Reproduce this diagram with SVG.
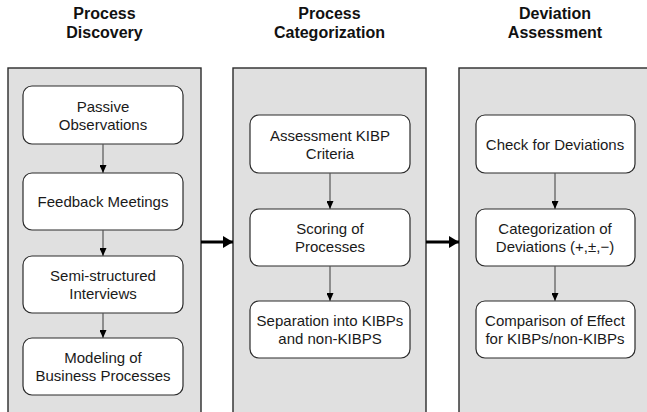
<svg xmlns="http://www.w3.org/2000/svg" width="647" height="412" viewBox="0 0 647 412">
  <defs>
    <style>
      .panel { fill: #e0e0e0; stroke: #2b2b2b; stroke-width: 1.4; }
      .node { fill: #ffffff; stroke: #2b2b2b; stroke-width: 1.2; }
      .title { font-family: "Liberation Sans", Arial, sans-serif; font-size: 16px; font-weight: bold; fill: #111; text-anchor: middle; }
      .label { font-family: "Liberation Sans", Arial, sans-serif; font-size: 15px; fill: #1a1a1a; text-anchor: middle; }
      .step { stroke: #555; stroke-width: 1.2; fill: none; marker-end: url(#small); }
      .flow { stroke: #000; stroke-width: 3; fill: none; marker-end: url(#big); }
    </style>
    <marker id="small" viewBox="0 0 8 7" refX="8" refY="3.5" markerWidth="8" markerHeight="7" markerUnits="userSpaceOnUse" orient="auto">
      <path d="M0,0 L8,3.5 L0,7 Z" fill="#000"/>
    </marker>
    <marker id="big" viewBox="0 0 10 12" refX="10" refY="6" markerWidth="10" markerHeight="12" markerUnits="userSpaceOnUse" orient="auto">
      <path d="M0,0 L10,6 L0,12 Z" fill="#000"/>
    </marker>
  </defs>

  <!-- column titles -->
  <g id="title-discovery">
    <text class="title" x="104.5" y="19">Process</text>
    <text class="title" x="104.5" y="38">Discovery</text>
  </g>
  <g id="title-categorization">
    <text class="title" x="329.5" y="19">Process</text>
    <text class="title" x="329.5" y="38">Categorization</text>
  </g>
  <g id="title-deviation">
    <text class="title" x="555" y="19">Deviation</text>
    <text class="title" x="555" y="38">Assessment</text>
  </g>

  <!-- column panels -->
  <g id="panel-discovery"><rect class="panel" x="8" y="68" width="193" height="360"/></g>
  <g id="panel-categorization"><rect class="panel" x="233" y="68" width="193" height="360"/></g>
  <g id="panel-deviation"><rect class="panel" x="459" y="68" width="193" height="360"/></g>

  <!-- process discovery steps -->
  <g id="passive-observations">
    <rect class="node" x="23" y="86" width="160" height="58" rx="9"/>
    <text class="label" x="103" y="111.5">Passive</text>
    <text class="label" x="103" y="129.5">Observations</text>
  </g>
  <g id="feedback-meetings">
    <rect class="node" x="23" y="173" width="160" height="57" rx="9"/>
    <text class="label" x="103" y="207">Feedback Meetings</text>
  </g>
  <g id="semi-structured-interviews">
    <rect class="node" x="23" y="256" width="160" height="57" rx="9"/>
    <text class="label" x="103" y="280.5">Semi-structured</text>
    <text class="label" x="103" y="298.5">Interviews</text>
  </g>
  <g id="modeling-business-processes">
    <rect class="node" x="23" y="338" width="160" height="57" rx="9"/>
    <text class="label" x="103" y="362.5">Modeling of</text>
    <text class="label" x="103" y="380.5">Business Processes</text>
  </g>

  <!-- process categorization steps -->
  <g id="assessment-kibp-criteria">
    <rect class="node" x="250" y="115" width="160" height="58" rx="9"/>
    <text class="label" x="330" y="140.5">Assessment KIBP</text>
    <text class="label" x="330" y="158.5">Criteria</text>
  </g>
  <g id="scoring-of-processes">
    <rect class="node" x="250" y="209" width="160" height="57" rx="9"/>
    <text class="label" x="330" y="233.5">Scoring of</text>
    <text class="label" x="330" y="251.5">Processes</text>
  </g>
  <g id="separation-kibps">
    <rect class="node" x="250" y="301" width="160" height="57" rx="9"/>
    <text class="label" x="330" y="325.5">Separation into KIBPs</text>
    <text class="label" x="330" y="343.5">and non-KIBPS</text>
  </g>

  <!-- deviation assessment steps -->
  <g id="check-for-deviations">
    <rect class="node" x="476" y="115" width="159" height="58" rx="9"/>
    <text class="label" x="555" y="149.5">Check for Deviations</text>
  </g>
  <g id="categorization-of-deviations">
    <rect class="node" x="476" y="209" width="159" height="57" rx="9"/>
    <text class="label" x="555" y="233.5">Categorization of</text>
    <text class="label" x="555" y="251.5">Deviations (+,±,−)</text>
  </g>
  <g id="comparison-of-effect">
    <rect class="node" x="476" y="301" width="159" height="57" rx="9"/>
    <text class="label" x="555" y="325.5">Comparison of Effect</text>
    <text class="label" x="555" y="343.5">for KIBPs/non-KIBPs</text>
  </g>

  <!-- connectors -->
  <g id="connectors">
    <line class="step" x1="103" y1="144" x2="103" y2="173"/>
    <line class="step" x1="103" y1="230" x2="103" y2="256"/>
    <line class="step" x1="103" y1="313" x2="103" y2="338"/>
    <line class="step" x1="330" y1="173" x2="330" y2="209"/>
    <line class="step" x1="330" y1="266" x2="330" y2="301"/>
    <line class="step" x1="555" y1="173" x2="555" y2="209"/>
    <line class="step" x1="555" y1="266" x2="555" y2="301"/>
    <line class="flow" x1="201" y1="242" x2="233" y2="242"/>
    <line class="flow" x1="426" y1="242" x2="459" y2="242"/>
  </g>
</svg>
